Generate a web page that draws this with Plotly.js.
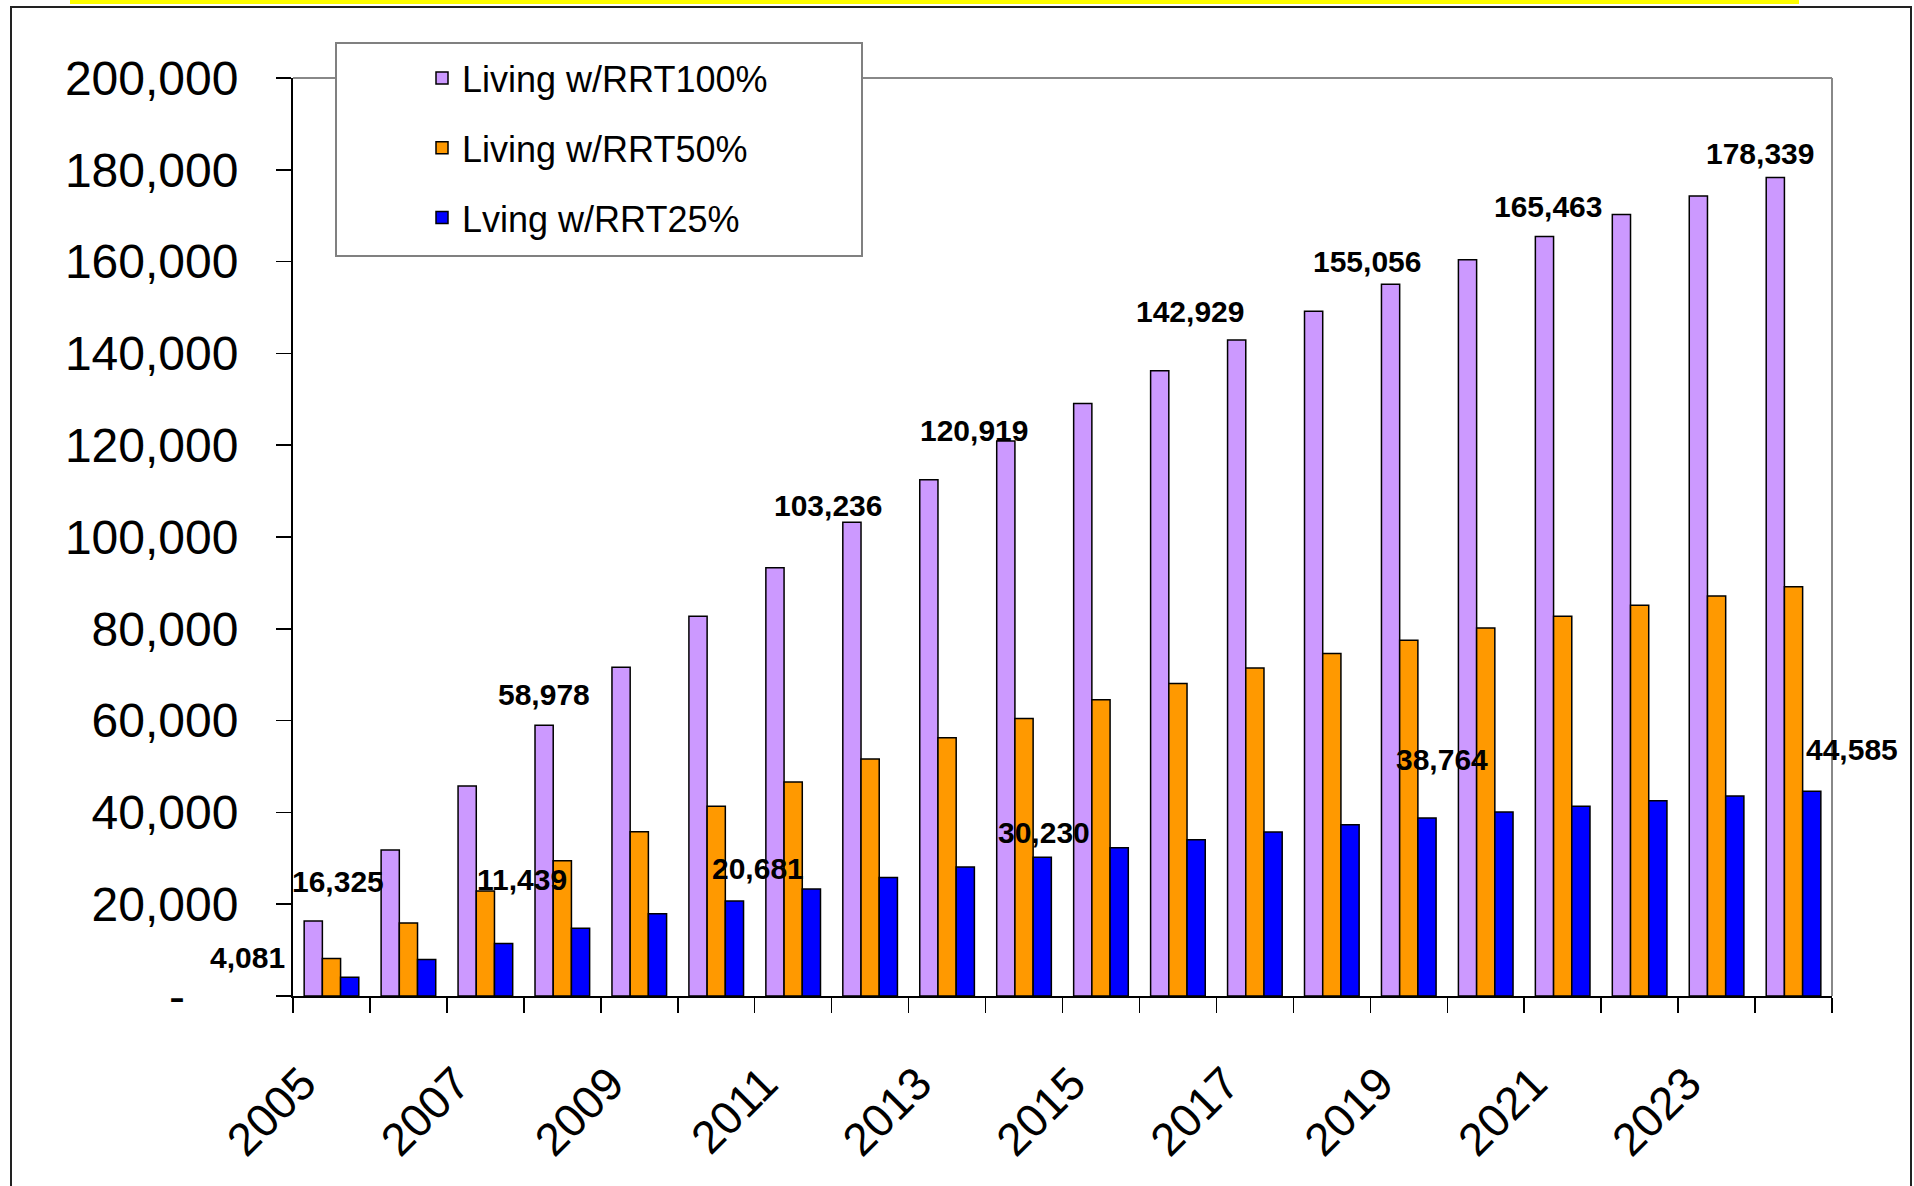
<!DOCTYPE html>
<html>
<head>
<meta charset="utf-8">
<script src="https://cdn.plot.ly/plotly-3.0.1.min.js"></script>
<style>
  html, body { margin: 0; padding: 0; background: #ffffff; }
  #chart { width: 1914px; height: 1186px; }
</style>
</head>
<body>
<div id="chart"></div>
<script>
// ---------------- data ----------------
const years = ["2005","2006","2007","2008","2009","2010","2011","2012","2013","2014",
               "2015","2016","2017","2018","2019","2020","2021","2022","2023","2024"];

const seriesNames = ["Living w/RRT100%", "Living w/RRT50%", "Lving w/RRT25%"];

const rrt100 = [16325, 31810, 45756, 58978, 71600, 82724, 93300, 103236, 112480, 120919,
                129100, 136200, 142929, 149200, 155056, 160400, 165463, 170250, 174300, 178339];
const rrt50  = [8163, 15905, 22878, 29489, 35800, 41362, 46650, 51618, 56240, 60460,
                64550, 68100, 71465, 74600, 77528, 80200, 82732, 85125, 87150, 89170];
const rrt25  = [4081, 7950, 11439, 14745, 17900, 20681, 23330, 25809, 28120, 30230,
                32280, 34050, 35732, 37300, 38764, 40100, 41366, 42560, 43575, 44585];

const yTickVals = [0, 20000, 40000, 60000, 80000, 100000, 120000, 140000, 160000, 180000, 200000];
const xLabelYears = ["2005","2007","2009","2011","2013","2015","2017","2019","2021","2023"];

// labelled points: series index and year
const labelSeries = [0, 2, 2, 0, 2, 0, 0, 2, 0, 0, 2, 0, 0, 2];
const labelYears  = ["2005","2005","2007","2008","2010","2012","2014","2014","2017","2019","2019","2021","2024","2024"];

// ---------------- styling / placement ----------------
const labelShiftX = [7, -84, 37, -18, 42, -42, -50, 20, -65, -42, 33, -15, -34, 58];
const labelShiftY = [40, 20, 64, 31, 33, 17, 10, 25, 28, 23, 59, 30, 24, 42];

const W = 1914, H = 1186;
const M = { l: 293, r: 82, t: 78, b: 190 };
const PW = W - M.l - M.r, PH = H - M.t - M.b;
const px2x = p => (p - M.l) / PW;
const py2y = p => (H - M.b - p) / PH;

const colors = ["#CC99FF", "#FF9900", "#0000FF"];
const allSeries = [rrt100, rrt50, rrt25];
const FONT = "Arial, 'Liberation Sans', sans-serif";

const traces = allSeries.map((vals, i) => ({
  type: "bar",
  name: seriesNames[i],
  x: years,
  y: vals,
  legendgroup: "g" + i,
  marker: { color: colors[i], line: { color: "#000000", width: 1.5 } },
  hoverinfo: "x+y+name"
}));

const annotations = labelYears.map((yr, k) => {
  const s = labelSeries[k];
  const idx = years.indexOf(yr);
  const v = allSeries[s][idx];
  return {
    x: idx, y: v, xref: "x", yref: "y",
    text: "<b>" + v.toLocaleString("en-US") + "</b>",
    showarrow: false,
    xanchor: "center", yanchor: "middle",
    xshift: labelShiftX[k], yshift: labelShiftY[k],
    font: { family: FONT, size: 30, color: "#000000" }
  };
});

const yTickText = yTickVals.map(v => v === 0 ? "-\u2007\u2007" : v.toLocaleString("en-US"));

const shapes = [
  // yellow band at the very top
  { type: "rect", xref: "paper", yref: "paper",
    x0: px2x(70), x1: px2x(1799), y0: py2y(0), y1: py2y(4),
    fillcolor: "#FFFF00", line: { width: 0 }, layer: "above" },
  // outer frame
  { type: "rect", xref: "paper", yref: "paper",
    x0: px2x(11), x1: px2x(1911), y0: py2y(7), y1: py2y(1200),
    line: { color: "#222222", width: 2 }, fillcolor: "rgba(0,0,0,0)", layer: "above" },
  // plot area top & right border (grey)
  { type: "line", xref: "paper", yref: "paper", x0: 0, x1: 1, y0: 1, y1: 1,
    line: { color: "#888888", width: 2 }, layer: "above" },
  { type: "line", xref: "paper", yref: "paper", x0: 1, x1: 1, y0: 0, y1: 1,
    line: { color: "#888888", width: 2 }, layer: "above" },
  // legend box
  { type: "rect", xref: "paper", yref: "paper",
    x0: px2x(336), x1: px2x(862), y0: py2y(256), y1: py2y(43),
    line: { color: "#808080", width: 2 }, fillcolor: "#FFFFFF", layer: "above" }
];

const layout = {
  width: W, height: H,
  margin: M,
  paper_bgcolor: "#FFFFFF",
  plot_bgcolor: "#FFFFFF",
  font: { family: FONT, color: "#000000" },
  barmode: "group",
  bargap: 0.29,
  bargroupgap: 0,
  showlegend: true,
  legend: {
    x: px2x(422), y: py2y(48), xanchor: "left", yanchor: "top",
    bgcolor: "rgba(0,0,0,0)", borderwidth: 0,
    font: { family: FONT, size: 36, color: "#000000" },
    tracegroupgap: 20,
    traceorder: "grouped"
  },
  xaxis: {
    type: "category",
    showgrid: false, zeroline: false,
    showline: true, linecolor: "#000000", linewidth: 2,
    ticks: "outside", ticklen: 15, tickwidth: 1.5, tickcolor: "#000000",
    tickson: "boundaries",
    tickmode: "array",
    tickvals: years,
    ticktext: years.map(y => xLabelYears.includes(y) ? y : ""),
    tickangle: -45,
    ticklabelshift: -29,
    ticklabelstandoff: 40,
    tickfont: { family: FONT, size: 46, color: "#000000" },
    range: [-0.5, years.length - 0.5]
  },
  yaxis: {
    range: [0, 200000],
    showgrid: false, zeroline: false,
    showline: true, linecolor: "#000000", linewidth: 2,
    ticks: "outside", ticklen: 15, tickwidth: 1.5, tickcolor: "#000000",
    tickmode: "array",
    tickvals: yTickVals,
    ticktext: yTickText,
    ticklabelstandoff: 28,
    tickfont: { family: FONT, size: 48, color: "#000000" }
  },
  shapes: shapes,
  annotations: annotations
};

Plotly.newPlot("chart", traces, layout, { displayModeBar: false, staticPlot: true });
</script>
</body>
</html>
